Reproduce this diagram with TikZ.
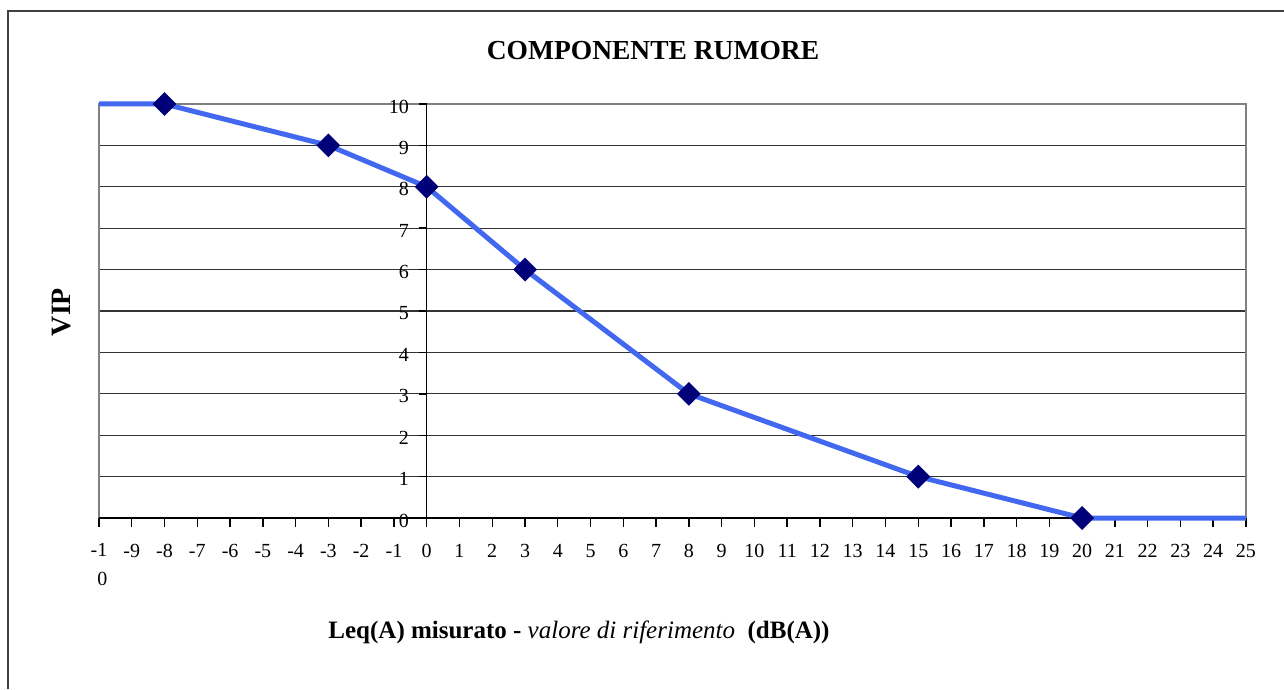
\documentclass[tikz,border=0pt]{standalone}
\usepackage{fontspec}
\setmainfont{Liberation Serif}
\usetikzlibrary{shapes.geometric}
\definecolor{curveblue}{RGB}{66,104,240}
\definecolor{markernavy}{RGB}{0,0,120}
\begin{document}
\begin{tikzpicture}[x=1pt,y=1pt,
  gridline/.style={black!80,line width=1.2pt},
  plotframe/.style={gray,line width=2pt},
  axisline/.style={black,line width=1.4pt},
  ticklab/.style={font=\fontsize{20}{29}\selectfont,inner sep=0pt},
  marker/.style={diamond,fill=markernavy,inner sep=0pt,minimum size=24pt}]
\useasboundingbox (0,0) rectangle (1284,689);
\draw[black!75,line width=1.5pt] (8,0) -- (8,678) -- (1284,678);
\node[font=\bfseries\fontsize{27.5}{30}\selectfont] (title) at (653,638) {COMPONENTE RUMORE};
\node[rotate=90,font=\bfseries\fontsize{28}{30}\selectfont] (vip) at (62,377) {VIP};
\node[font=\bfseries\fontsize{25}{28}\selectfont] (xtitle) at (579,57)
  {Leq(A) misurato - {\mdseries\itshape valore di riferimento}\ \ (dB(A))};
\begin{scope}[shift={(426.7,171)},x=32.77pt,y=41.4pt]
\foreach \v in {1,...,9} \draw[gridline] (-10,\v) -- (25,\v);
\draw[plotframe] (-10,0) -- (-10,10) -- (25,10) -- (25,0);
\draw[axisline] (0,0) -- (0,10);
\foreach \v in {0,...,10} {
  \draw[axisline] (-0.25,\v) -- (0,\v);
  \node[ticklab,anchor=east] (ylab\v) at (-0.54,\v-0.06) {\v};
}
\draw[axisline] (-10,0) -- (25,0);
\foreach \u in {-10,...,25} \draw[axisline] (\u,0) -- (\u,-0.22);
\foreach \u in {-9,...,25} \node[ticklab] (xlab\u) at (\u,-0.8) {\u};
\node[ticklab,align=right,anchor=north] (xlabfirst) at (-10,-0.6) {-1\\0};
\coordinate (start) at (-10,10);
\coordinate (finish) at (25,0);
\foreach \u/\v/\n in {-8/10/pa,-3/9/pb,0/8/pc,3/6/pd,8/3/pe,15/1/pf,20/0/pg}
  \coordinate (\n) at (\u,\v);
\draw[curveblue,line width=5pt,line join=round]
  (start) -- (pa) -- (pb) -- (pc) -- (pd) -- (pe) -- (pf) -- (pg) -- (finish);
\foreach \n in {pa,pb,pc,pd,pe,pf,pg} \node[marker] (m\n) at (\n) {};
\end{scope}
\end{tikzpicture}
\end{document}
